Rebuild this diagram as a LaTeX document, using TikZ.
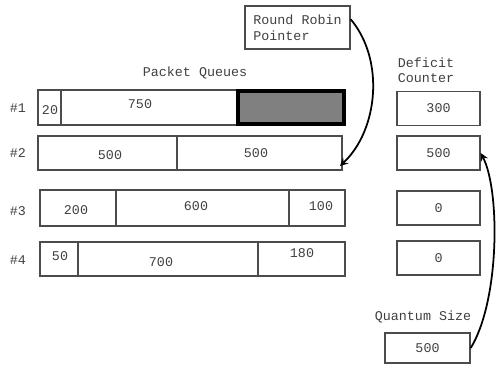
\documentclass[tikz,border=0pt]{standalone}
\usepackage{fontspec}
\setmonofont{Liberation Mono}
\usetikzlibrary{positioning}
\begin{document}
\begin{tikzpicture}[>=stealth,x=0.2mm,y=-0.2mm,font=\ttfamily\fontsize{7.6}{8.8}\selectfont]
	\tikzset{cell/.style={draw=black!70,line width=0.8pt},
		txt/.style={text=black!75,inner sep=1pt},
		cbox/.style={draw=black!70,line width=0.8pt,text=black!75,minimum width=16.6mm,minimum height=6.8mm,inner sep=0pt}}
	\useasboundingbox (0,0) rectangle (496,367);
	% queue labels
	\foreach \n/\y in {1/108,2/153,3/211,4/260}{\node[txt] (lab\n) at (18,\y) {\#\n};}
	\node[txt] (pq) at (195,73) {Packet Queues};
	% queue #1
	\draw[cell] (38,90) rectangle (345,125);
	\draw[cell] (61,90)--(61,125);
	\draw[line width=2pt,fill=black!50] (238,91) rectangle (344,124); %head packet
	\node[txt] (qa1) at (50,110) {20};
	\node[txt] (qb1) at (140,104) {750};
	% queue #2
	\draw[cell] (38,136) rectangle (342,170);
	\draw[cell] (177,136)--(177,170);
	\node[txt] (qa2) at (110,155) {500};
	\node[txt] (qb2) at (256,153) {500};
	\coordinate (q2end) at (340,166);
	% queue #3
	\draw[cell] (40,190) rectangle (345,226);
	\foreach \x in {116,289}{\draw[cell] (\x,190)--(\x,226);}
	\node[txt] (qa3) at (76,210) {200};
	\node[txt] (qb3) at (196,206) {600};
	\node[txt] (qc3) at (321,206) {100};
	% queue #4
	\draw[cell] (40,242) rectangle (345,276);
	\foreach \x in {78,258}{\draw[cell] (\x,242)--(\x,276);}
	\node[txt] (qa4) at (60,256) {50};
	\node[txt] (qb4) at (161,262) {700};
	\node[txt] (qc4) at (302,253) {180};
	% round robin pointer
	\node[cbox,minimum width=21mm,minimum height=8.6mm,align=left] (rr) at (297.5,27.5) {Round Robin\\Pointer};
	% deficit counters
	\node[txt,align=left] (dc) at (426,70) {Deficit\\Counter};
	\node[cbox] (dc1) at (438.5,108.5) {300};
	\node[cbox] (dc2) at (438.5,153) {500};
	\node[cbox] (dc3) at (438.5,208) {0};
	\node[cbox] (dc4) at (438.5,258) {0};
	% quantum
	\node[txt] (qs) at (423,317) {Quantum Size};
	\node[cbox,minimum width=17mm,minimum height=6mm] (qv) at (427.5,348) {500};
	% arrows
	\draw[->,line width=1pt] (rr.north east) ++(0,14) .. controls (385,60) and (378,130) .. (q2end);
	\draw[->,line width=1pt] (qv.east) .. controls (500,300) and (500,190) .. (dc2.east);
\end{tikzpicture}
\end{document}
